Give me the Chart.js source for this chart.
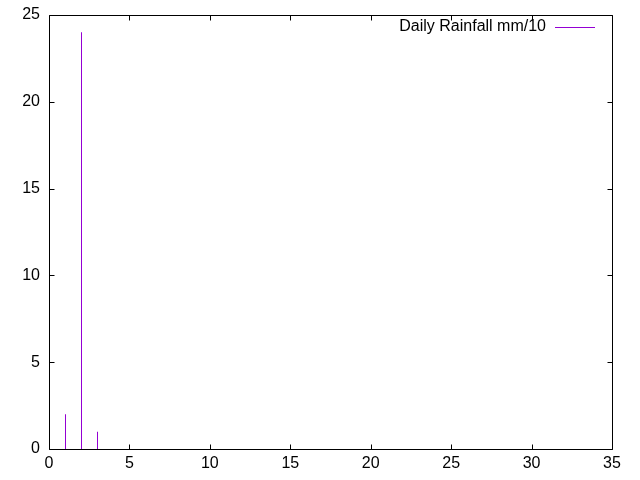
<!DOCTYPE html>
<html>
<head>
<meta charset="utf-8">
<script src="https://cdn.jsdelivr.net/npm/chart.js@4/dist/chart.umd.min.js"></script>
<style>
html,body{margin:0;padding:0;background:#fff;}
#wrap{width:640px;height:480px;}
</style>
</head>
<body>
<div id="wrap"><canvas id="c" width="640" height="480"></canvas></div>
<script>
const days = [1,2,3,4,5,6,7,8,9,10,11,12,13,14,15,16,17,18,19,20,21,22,23,24,25,26,27,28,29,30,31];
const rainfall = [2,24,1,0,0,0,0,0,0,0,0,0,0,0,0,0,0,0,0,0,0,0,0,0,0,0,0,0,0,0,0];
const seriesLabel = 'Daily Rainfall mm/10';
const xTicks = [0,5,10,15,20,25,30,35];
const yTicks = [0,5,10,15,20,25];

const FONT = "'Liberation Sans', Arial, sans-serif";
const LINE = '#9400D3';

const snapPlugin = {
  id: 'snap',
  beforeDatasetsDraw(chart) {
    chart.getDatasetMeta(0).data.forEach(el => { el.x = Math.floor(el.x) + 0.5; });
  }
};

const framePlugin = {
  id: 'frame',
  afterDraw(chart) {
    const ctx = chart.ctx, a = chart.chartArea;
    const xs = chart.scales.x, ys = chart.scales.y;
    ctx.save();
    ctx.strokeStyle = '#000';
    ctx.lineWidth = 1;
    const L = Math.round(a.left) + 0.5, R = Math.round(a.right) + 0.5;
    const T = Math.round(a.top) + 0.5, B = Math.round(a.bottom) + 0.5;
    ctx.beginPath();
    ctx.rect(L, T, R - L, B - T);
    const tl = 5;
    xTicks.forEach(v => {
      const px = Math.round(xs.getPixelForValue(v)) + 0.5;
      ctx.moveTo(px, B); ctx.lineTo(px, B - tl);
      ctx.moveTo(px, T); ctx.lineTo(px, T + tl);
    });
    yTicks.forEach(v => {
      const py = Math.round(ys.getPixelForValue(v)) + 0.5;
      ctx.moveTo(L, py); ctx.lineTo(L + tl, py);
      ctx.moveTo(R, py); ctx.lineTo(R - tl, py);
    });
    ctx.stroke();
    // legend
    ctx.font = '16px ' + FONT;
    ctx.fillStyle = '#000';
    ctx.textAlign = 'right';
    ctx.textBaseline = 'middle';
    ctx.fillText(chart.data.datasets[0].label, 546, 27);
    ctx.strokeStyle = LINE;
    ctx.beginPath();
    ctx.moveTo(555, 27.5); ctx.lineTo(595, 27.5);
    ctx.stroke();
    ctx.restore();
  }
};

new Chart(document.getElementById('c'), {
  type: 'bar',
  data: {
    datasets: [{
      label: seriesLabel,
      data: days.map((d, i) => ({x: d, y: rainfall[i]})),
      backgroundColor: LINE,
      borderWidth: 0,
      inflateAmount: 0,
      barThickness: 1
    }]
  },
  options: {
    responsive: false,
    animation: false,
    devicePixelRatio: 1,
    layout: {padding: {left: 0, right: 28, top: 15, bottom: 0}},
    plugins: {legend: {display: false}, tooltip: {enabled: false}},
    scales: {
      x: {
        type: 'linear', min: 0, max: 35, offset: false,
        grid: {display: false, drawTicks: false},
        border: {display: false},
        afterBuildTicks(s) { s.ticks = xTicks.map(v => ({value: v})); },
        afterFit(s) { s.height = 31; s.paddingLeft = 0; s.paddingRight = 0; },
        ticks: {color: '#000', font: {family: FONT, size: 16}, padding: 5, maxRotation: 0, autoSkip: false}
      },
      y: {
        min: 0, max: 25,
        grid: {display: false, drawTicks: false},
        border: {display: false},
        afterBuildTicks(s) { s.ticks = yTicks.map(v => ({value: v})); },
        afterFit(s) { s.width = 49; s.paddingTop = 0; s.paddingBottom = 0; },
        ticks: {color: '#000', font: {family: FONT, size: 16}, padding: 9}
      }
    }
  },
  plugins: [snapPlugin, framePlugin]
});
</script>
</body>
</html>
